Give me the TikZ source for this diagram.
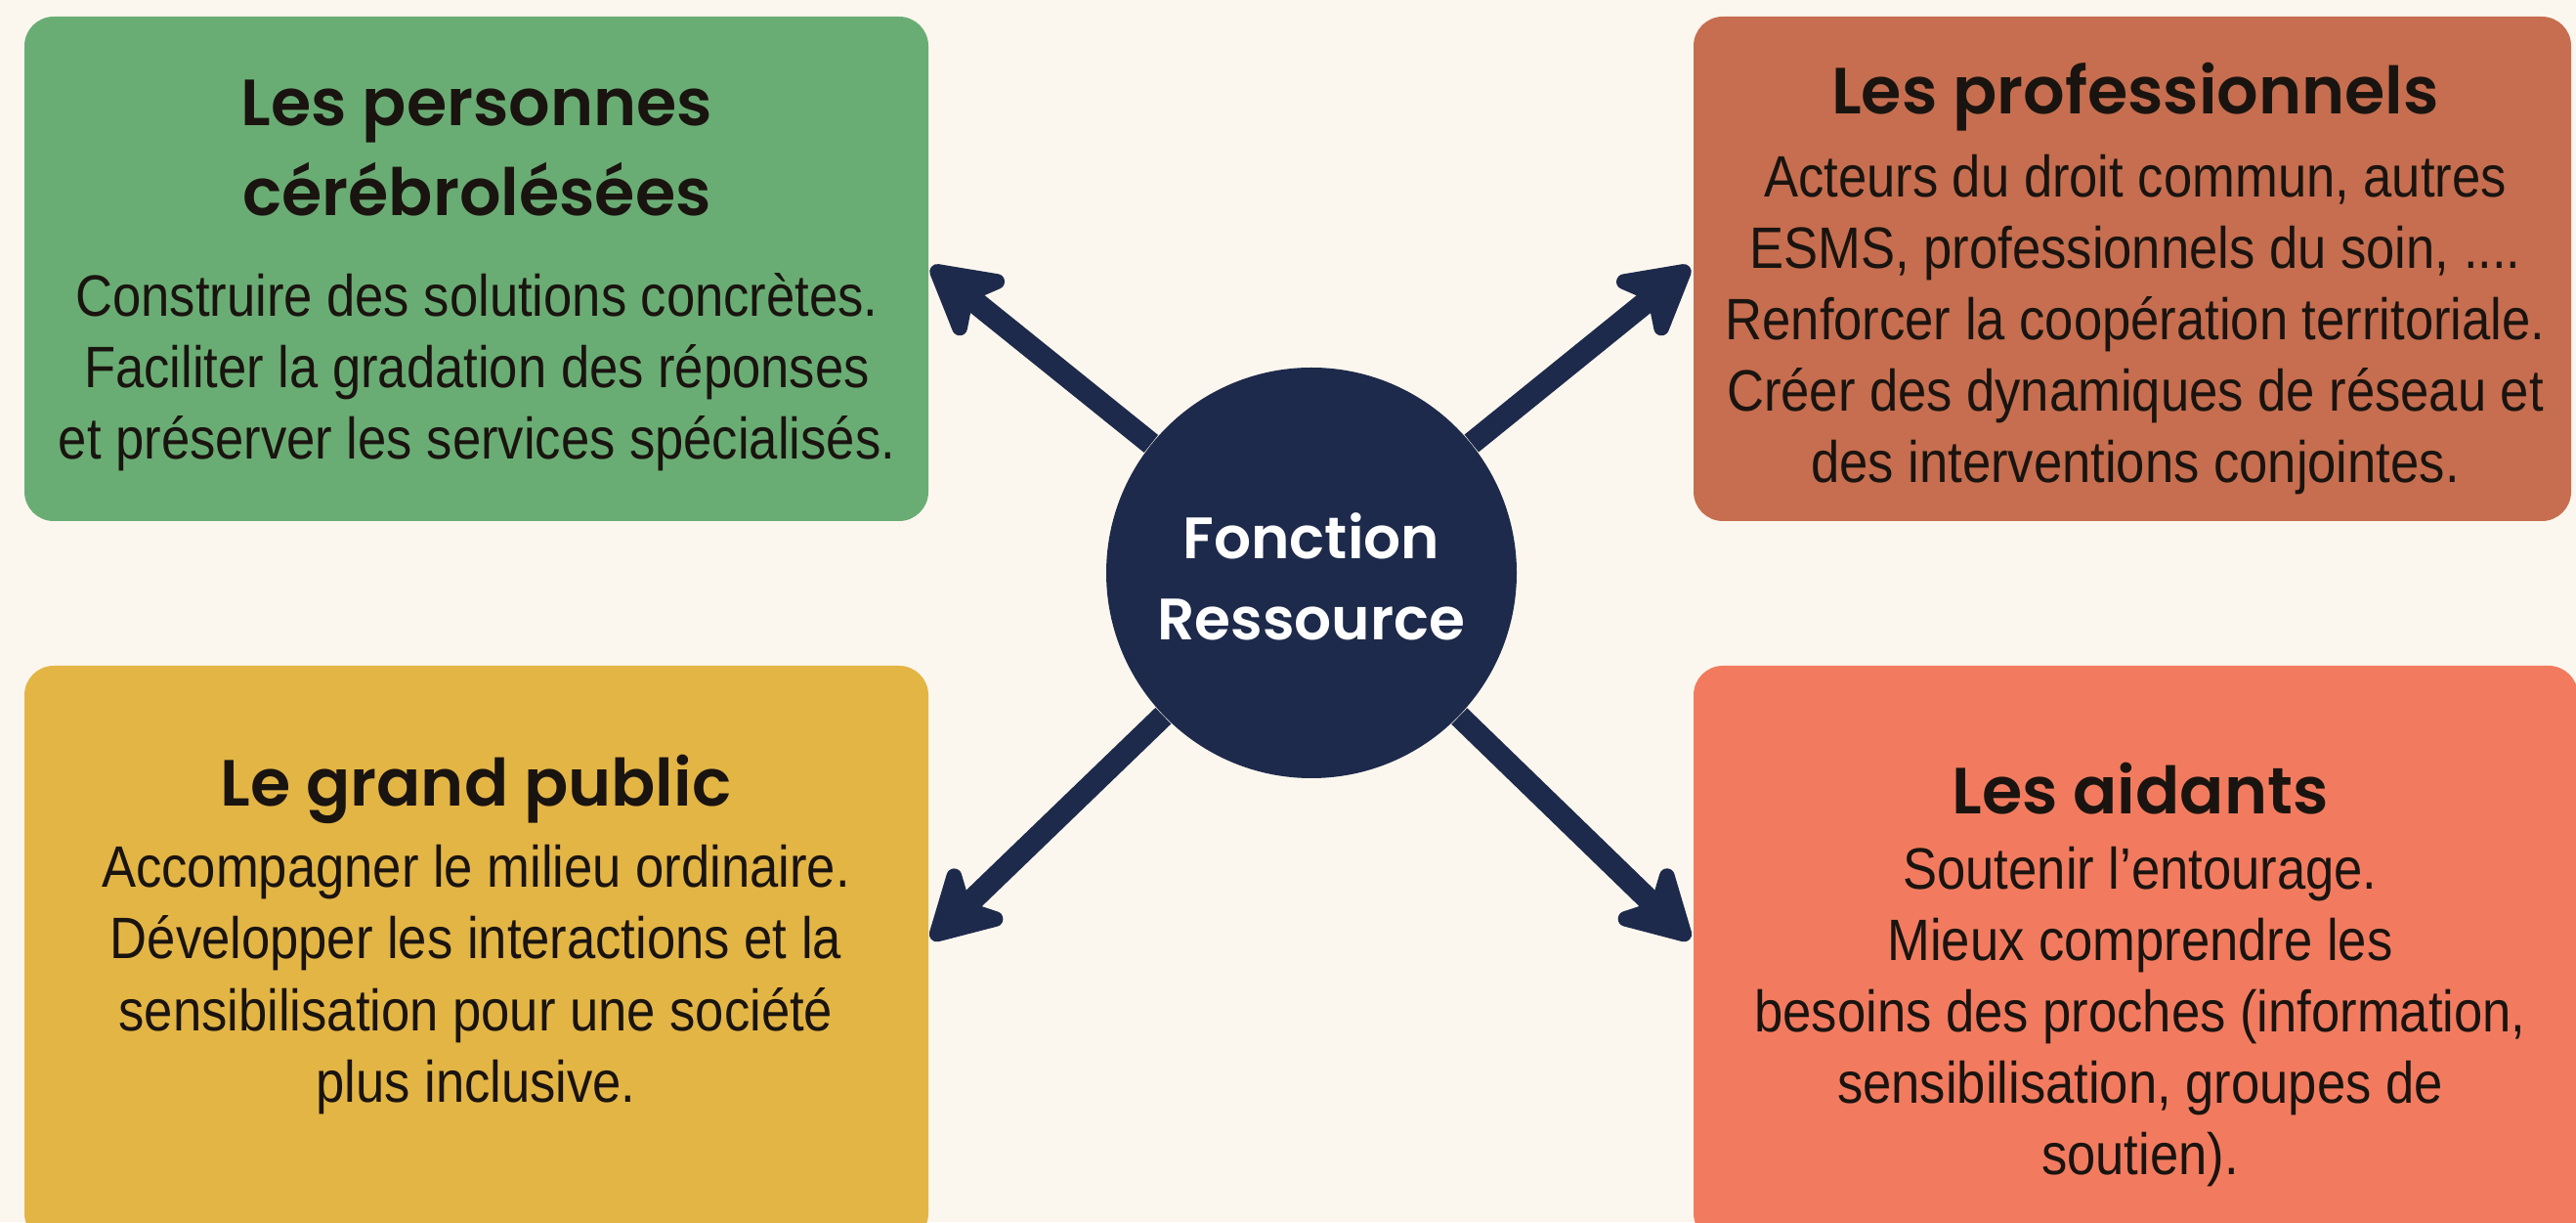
\documentclass[tikz,border=0pt]{standalone}
\usepackage{fontspec}
\setmainfont{Liberation Sans}[FakeStretch=0.88]
\newfontfamily\titlefont{Poppins SemiBold}
\usetikzlibrary{arrows.meta}
\definecolor{bg}{HTML}{FBF7EE}
\definecolor{cgreen}{HTML}{6AAD74}
\definecolor{cbrick}{HTML}{C66E4F}
\definecolor{cyellow}{HTML}{E3B545}
\definecolor{ccoral}{HTML}{F27B5F}
\definecolor{navy}{HTML}{1E2A4B}
\definecolor{ink}{HTML}{1A1410}
\begin{document}
\begin{tikzpicture}[x=1cm,y=1cm,
  card/.style={rounded corners=0.3cm, inner sep=0pt, outer sep=0pt, anchor=north west},
  ttl/.style={font=\titlefont\fontsize{19}{26}\selectfont, text=ink, align=center, inner sep=0pt},
  bodytxt/.style={font=\fontsize{17}{20.8}\selectfont, text=ink, align=center, inner sep=0pt},
  hub/.style={circle, fill=navy, minimum size=4.2cm, inner sep=0pt},
  hubtxt/.style={text=white, align=center, inner sep=0pt,
    font=\titlefont\fontsize{17}{23.5}\selectfont},
  link/.style={line width=0.23cm, draw=navy,
    -{Stealth[length=0.88cm,width=0.98cm,inset=0.25cm,round]}}]
\clip (0,0) rectangle (26.36,12.5);
\fill[bg] (0,0) rectangle (26.36,12.5);
% cards
\node[card, fill=cgreen, minimum width=9.25cm, minimum height=5.16cm] (g) at (0.25,12.33) {};
\node[card, fill=cbrick, minimum width=8.98cm, minimum height=5.16cm] (r) at (17.33,12.33) {};
\node[card, fill=cyellow, minimum width=9.25cm, minimum height=5.9cm] (y) at (0.25,5.69) {};
\node[card, fill=ccoral, minimum width=9.05cm, minimum height=5.9cm] (c) at (17.33,5.69) {};
% texts
\node[ttl] (gt) at (4.88,10.985) {Les personnes\\cérébrolésées};
\node[bodytxt] (gb) at (4.88,8.69) {Construire des solutions concrètes.\\Faciliter la gradation des réponses\\et préserver les services spécialisés.};
\node[ttl] (rt) at (21.85,11.51) {Les professionnels};
\node[bodytxt] (rb) at (21.85,9.18) {Acteurs du droit commun, autres\\ESMS, professionnels du soin, ....\\Renforcer la coopération territoriale.\\Créer des dynamiques de réseau et\\des interventions conjointes.};
\node[ttl] (yt) at (4.87,4.43) {Le grand public};
\node[bodytxt] (yb) at (4.87,2.48) {Accompagner le milieu ordinaire.\\Développer les interactions et la\\sensibilisation pour une société\\plus inclusive.};
\node[ttl] (ct) at (21.9,4.43) {Les aidants};
\node[bodytxt] (cb) at (21.9,2.10) {Soutenir l’entourage.\\Mieux comprendre les\\besoins des proches (information,\\sensibilisation, groupes de\\soutien).};
% hub
\node[hub] (h) at (13.42,6.64) {};
\node[hubtxt] (ht) at (13.42,6.60) {Fonction\\Ressource};
\coordinate (tl) at (9.53,9.77);
\coordinate (tr) at (17.29,9.77);
\coordinate (bl) at (9.53,2.89);
\coordinate (br) at (17.29,2.89);
\draw[link] (h) -- (tl);
\draw[link] (h) -- (tr);
\draw[link] (h) -- (bl);
\draw[link] (h) -- (br);
\end{tikzpicture}
\end{document}
